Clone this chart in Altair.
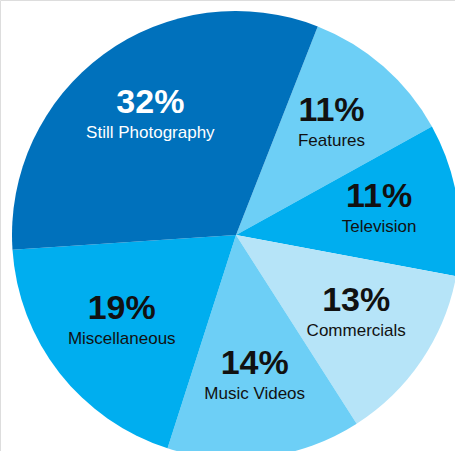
import math
import altair as alt
import pandas as pd

# Share of work by category, listed clockwise starting with Features
categories = ["Features", "Television", "Commercials", "Music Videos",
              "Miscellaneous", "Still Photography"]
shares = [11, 11, 13, 14, 19, 32]
slice_colors = ["#6DCFF6", "#00AEEF", "#B6E4F8", "#6DCFF6", "#00AEEF", "#0071BC"]
text_colors = ["#111111", "#111111", "#111111", "#111111", "#111111", "#FFFFFF"]

df = pd.DataFrame({
    "category": categories,
    "share": shares,
    "rank": list(range(len(categories))),
    "pct": [f"{v}%" for v in shares],
    "ink": text_colors,
})

start = math.radians(21.4)
theta_scale = alt.Scale(range=[start, start + 2 * math.pi])
cx, cy, r = 236, 235, 224

base = alt.Chart(df).encode(
    theta=alt.Theta("share:Q", stack=True, scale=theta_scale),
    order=alt.Order("rank:Q"),
    x=alt.value(cx),
    y=alt.value(cy),
)

pie = base.mark_arc(outerRadius=r).encode(
    color=alt.Color("category:N", legend=None,
                    scale=alt.Scale(domain=categories, range=slice_colors)),
)

pct_text = base.mark_text(
    radius=145, dy=-15, font="Liberation Sans", fontWeight="bold",
    fontSize=34, align="center", baseline="middle",
).encode(
    text="pct:N",
    color=alt.Color("ink:N", scale=None),
)

name_text = base.mark_text(
    radius=145, dy=15, font="Liberation Sans",
    fontSize=17, align="center", baseline="middle",
).encode(
    text="category:N",
    color=alt.Color("ink:N", scale=None),
)

chart = alt.layer(pie, pct_text, name_text).properties(
    width=455, height=451, padding=0, autosize=alt.AutoSizeParams(type="none"),
).configure_view(stroke=None).configure(background="#FFFFFF")

chart.save("out.html", embed_options={"renderer": "svg", "actions": False})
